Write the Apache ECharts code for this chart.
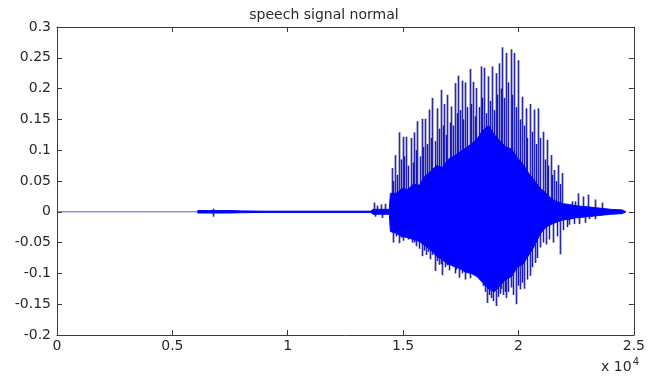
<!DOCTYPE html>
<html>
<head>
<meta charset="utf-8">
<script src="https://cdn.jsdelivr.net/npm/echarts@6/dist/echarts.min.js"></script>
<style>
  html, body { margin: 0; padding: 0; background: #fff; }
  #chart { width: 648px; height: 376px; }
</style>
</head>
<body>
<div id="chart"></div>
<script>
// envelope of the dense part of the waveform (sample index, top, bottom)
const envX = [6100, 6600, 7000, 7500, 8000, 9000, 10000, 11000, 12000, 13000, 13600, 13700, 14000, 14300, 14400,
  14450, 14700, 14950, 15200, 15450, 15700, 15950, 16200, 16450, 16700, 16950, 17200, 17450, 17700, 17950,
  18200, 18450, 18700, 18950, 19200, 19450, 19700, 19950, 20200, 20450, 20700, 20950, 21200, 21450, 21700,
  21950, 22200, 22450, 23000, 23500, 24000, 24500, 24650];
const envTop = [0.002, 0.002, 0.002, 0.002, 0.0015, 0.001, 0.001, 0.001, 0.001, 0.001, 0.001, 0.004, 0.004, 0.004, 0.004,
  0.03, 0.03, 0.038, 0.036, 0.045, 0.043, 0.058, 0.066, 0.075, 0.072, 0.085, 0.09, 0.097, 0.103, 0.11,
  0.118, 0.132, 0.14, 0.125, 0.115, 0.105, 0.102, 0.088, 0.077, 0.062, 0.05, 0.038, 0.03, 0.02, 0.016,
  0.013, 0.012, 0.01, 0.008, 0.006, 0.004, 0.003, 0];
const envBot = [-0.002, -0.002, -0.002, -0.002, -0.0015, -0.001, -0.001, -0.001, -0.001, -0.001, -0.001, -0.004, -0.004, -0.004, -0.004,
  -0.032, -0.035, -0.04, -0.042, -0.045, -0.048, -0.055, -0.062, -0.072, -0.078, -0.085, -0.088, -0.092, -0.098, -0.1,
  -0.105, -0.115, -0.125, -0.13, -0.12, -0.11, -0.105, -0.09, -0.085, -0.07, -0.055, -0.035, -0.025, -0.02, -0.016,
  -0.013, -0.012, -0.01, -0.008, -0.006, -0.004, -0.003, 0];

// tall positive spikes (pitch pulses)
const upX = [6770, 13720, 13850, 14050, 14200, 14500, 14650, 14820, 14980, 15120, 15340, 15480, 15620, 15810, 15940, 16130, 16270,
  16450, 16640, 16780, 16920, 17090, 17250, 17400, 17540, 17690, 17890, 18030, 18170, 18360, 18510, 18690, 18840,
  19010, 19160, 19300, 19470, 19660, 19800, 19990, 20140, 20310, 20480, 20670, 20850, 21060, 21220, 21390, 21560,
  21720, 21890, 22300, 22470, 22600, 22800, 23000, 23300, 23600];
const upY = [0.005, 0.015, 0.010, 0.012, 0.013, 0.071, 0.092, 0.129, 0.122, 0.122, 0.120, 0.129, 0.147, 0.151, 0.151, 0.166, 0.185,
  0.168, 0.198, 0.175, 0.190, 0.171, 0.209, 0.221, 0.213, 0.210, 0.232, 0.211, 0.201, 0.236, 0.234, 0.220, 0.236,
  0.225, 0.241, 0.267, 0.258, 0.264, 0.258, 0.246, 0.187, 0.168, 0.175, 0.166, 0.168, 0.130, 0.117, 0.092, 0.068,
  0.076, 0.063, 0.017, 0.017, 0.030, 0.025, 0.028, 0.020, 0.015];

// secondary positive spikes between the pulses
const midUpX = [14580, 14740, 14900, 15050, 15230, 15410, 15550, 15720, 15880, 16040, 16200, 16360, 16540, 16710, 16850,
  17010, 17170, 17320, 17470, 17610, 17790, 17960, 18100, 18270, 18430, 18600, 18760, 18920, 19080, 19230, 19390,
  19560, 19730, 19900, 20060, 20220, 20390, 20570, 20760, 20950, 21140, 21300, 21470, 21640, 21800];
const midUpY = [0.05, 0.06, 0.085, 0.09, 0.075, 0.08, 0.1, 0.09, 0.105, 0.11, 0.12, 0.115, 0.135, 0.14, 0.125,
  0.145, 0.14, 0.16, 0.165, 0.15, 0.17, 0.175, 0.155, 0.17, 0.185, 0.16, 0.18, 0.165, 0.19, 0.2, 0.185,
  0.21, 0.19, 0.17, 0.15, 0.14, 0.12, 0.13, 0.11, 0.12, 0.085, 0.075, 0.06, 0.05, 0.045];

// negative spikes
const downX = [6770, 13760, 14100, 14545, 14800, 15007, 15366, 15550, 15798, 16000, 16161, 16377, 16550, 16705, 16908, 17167,
  17300, 17427, 17673, 17889, 18105, 18321, 18480, 18637, 18822, 19012, 19185, 19330, 19470, 19661, 19877, 20049,
  20236, 20482, 20698, 20914, 21173, 21489, 21804, 22210, 22642, 22900, 23074, 23300];
const downY = [-0.008, -0.008, -0.01, -0.050, -0.051, -0.047, -0.050, -0.056, -0.072, -0.070, -0.077, -0.096, -0.086, -0.103, -0.087, -0.090,
  -0.094, -0.107, -0.110, -0.108, -0.096, -0.110, -0.121, -0.148, -0.140, -0.153, -0.133, -0.135, -0.140, -0.123, -0.150, -0.126,
  -0.125, -0.104, -0.083, -0.058, -0.053, -0.050, -0.069, -0.021, -0.020, -0.018, -0.012, -0.012];

// secondary negative spikes
const midDownX = [14680, 14900, 15200, 15460, 15700, 15900, 16080, 16270, 16470, 16620, 16800, 17000, 17080, 17230, 17550,
  17780, 18000, 18200, 18400, 18560, 18730, 18900, 19100, 19260, 19400, 19560, 19760, 19960, 20140, 20360, 20590,
  20800, 21050, 21330, 21650, 21950, 22100, 22400];
const midDownY = [-0.04, -0.042, -0.045, -0.05, -0.06, -0.063, -0.065, -0.07, -0.08, -0.085, -0.09, -0.095, -0.08, -0.1, -0.1,
  -0.098, -0.1, -0.105, -0.115, -0.13, -0.135, -0.145, -0.138, -0.125, -0.13, -0.13, -0.135, -0.12, -0.115, -0.11, -0.09,
  -0.075, -0.05, -0.045, -0.04, -0.03, -0.025, -0.02];

const xTickLabels = ['0', '0.5', '1', '1.5', '2', '2.5'];
const font = 'DejaVu Sans';

const pairs = (xs, ys) => xs.map((x, i) => [x, ys[i]]);
const spikes = pairs(upX, upY).concat(pairs(downX, downY));
const midSpikes = pairs(midUpX, midUpY).concat(pairs(midDownX, midDownY));

const chart = echarts.init(document.getElementById('chart'));

const boxAxis = {
  axisLine: {show: true, onZero: false, lineStyle: {color: '#3a3a3a', width: 1}},
  axisTick: {show: true, inside: true, length: 5, lineStyle: {color: '#3a3a3a'}},
  splitLine: {show: false}
};

function spikeSeries(data, color, width, z) {
  return {
    type: 'custom',
    data: data,
    renderItem: (params, api) => {
      const p0 = api.coord([api.value(0), 0]);
      const p1 = api.coord([api.value(0), api.value(1)]);
      const x = Math.round(p0[0]) + 0.5;
      return {
        type: 'line',
        shape: {x1: x, y1: p0[1], x2: x, y2: p1[1]},
        style: {stroke: color, lineWidth: width}
      };
    },
    z: z
  };
}

chart.setOption({
  animation: false,
  title: {
    text: 'speech signal normal',
    left: 'center',
    top: 3,
    textStyle: {fontFamily: font, fontSize: 14, fontWeight: 'normal', color: '#2a2a2a'}
  },
  grid: {left: 57, right: 12, top: 27, bottom: 41},
  xAxis: [
    Object.assign({
      type: 'value', min: 0, max: 25000, interval: 5000, position: 'bottom',
      axisLabel: {
        margin: 4, fontFamily: font, fontSize: 14, color: '#2a2a2a',
        formatter: v => xTickLabels[Math.round(v / 5000)]
      }
    }, boxAxis),
    Object.assign({
      type: 'value', min: 0, max: 25000, interval: 5000, position: 'top',
      axisLabel: {show: false}
    }, boxAxis)
  ],
  yAxis: [
    Object.assign({
      type: 'value', min: -0.2, max: 0.3, interval: 0.05, position: 'left',
      axisLabel: {margin: 6, fontFamily: font, fontSize: 14, color: '#2a2a2a'}
    }, boxAxis),
    Object.assign({
      type: 'value', min: -0.2, max: 0.3, interval: 0.05, position: 'right',
      axisLabel: {show: false}
    }, boxAxis)
  ],
  graphic: [{
    type: 'text',
    right: 9,
    bottom: 2,
    style: {
      text: 'x 10{s|4}',
      font: '14px "DejaVu Sans"',
      fill: '#2a2a2a',
      rich: {s: {fontSize: 10, verticalAlign: 'top', padding: [0, 0, 10, 1], fontFamily: font}}
    }
  }],
  series: [
    {
      // zero line of the recording
      type: 'line',
      data: [[0, 0], [24650, 0]],
      symbol: 'none',
      lineStyle: {color: '#5a5ac8', width: 1},
      z: 1
    },
    spikeSeries(spikes, '#2a2aa4', 1.7, 2),
    spikeSeries(midSpikes, '#1414c8', 1.5, 3),
    {
      type: 'custom',
      data: [0],
      renderItem: (params, api) => {
        const pts = [];
        envX.forEach((x, i) => pts.push(api.coord([x, envTop[i]])));
        for (let i = envX.length - 1; i >= 0; i--) pts.push(api.coord([envX[i], envBot[i]]));
        return {
          type: 'polygon',
          shape: {points: pts},
          style: {fill: '#0000ff', stroke: '#0000ff', lineWidth: 1}
        };
      },
      z: 4
    }
  ]
});
</script>
</body>
</html>
